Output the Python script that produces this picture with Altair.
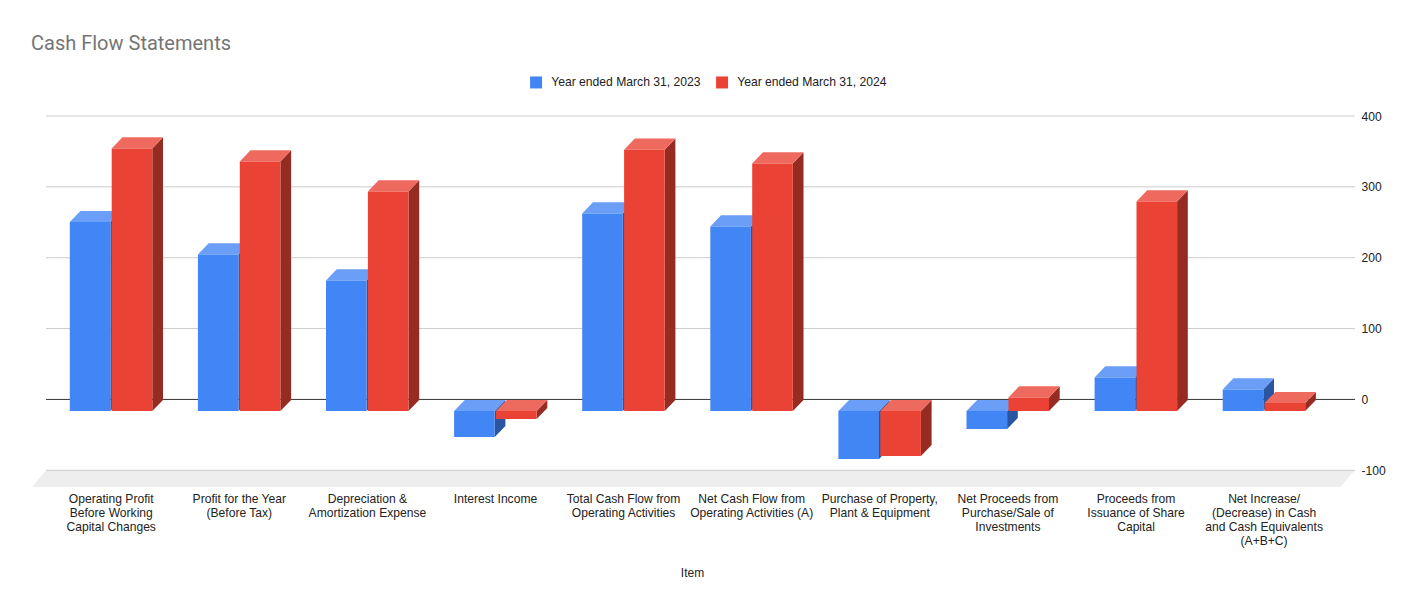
import altair as alt
import pandas as pd

title = "Cash Flow Statements"
categories = [
    "Operating Profit|Before Working|Capital Changes",
    "Profit for the Year|(Before Tax)",
    "Depreciation &|Amortization Expense",
    "Interest Income",
    "Total Cash Flow from|Operating Activities",
    "Net Cash Flow from|Operating Activities (A)",
    "Purchase of Property,|Plant & Equipment",
    "Net Proceeds from|Purchase/Sale of|Investments",
    "Proceeds from|Issuance of Share|Capital",
    "Net Increase/|(Decrease) in Cash|and Cash Equivalents|(A+B+C)",
]
values_2023 = [266.8, 221, 184.5, -36.7, 279, 260.7, -67.7, -25.4, 47.6, 30.6]
values_2024 = [370.8, 352.4, 310, -11.3, 369, 349.6, -63.5, 19.3, 296, 11.3]
series_names = ["Year ended March 31, 2023", "Year ended March 31, 2024"]
front_colors = ["#4285F4", "#EA4335"]
top_colors = ["#6A9EF7", "#EE6A5F"]
side_colors = ["#2A55A0", "#962B22"]
y_ticks = [400, 300, 200, 100, 0, -100]

# layout constants (pixels within the plot frame)
PX_ORIGIN, PX_STEP = 111.7, 128.1
def ux(px):
    return (px - PX_ORIGIN) / PX_STEP

BAR_W = ux(PX_ORIGIN + 40.6)
GAP = ux(PX_ORIGIN + 1.3)
DX = ux(PX_ORIGIN + 10.7)
BASE = -16.5   # front plane's zero level
DV = 15.8      # depth on the value scale

label_expr = "split(" + repr(list(categories)) + "[datum.value], '|')"

xs = alt.Scale(domain=[ux(32), ux(1355)], nice=False, zero=False)
ys = alt.Scale(domain=[-123.6, 400], nice=False, zero=False)

x_axis = alt.Axis(
    values=list(range(len(categories))), labelExpr=label_expr, grid=False, domain=False, ticks=False,
    labelFont="Liberation Sans", labelFontSize=12.1, labelColor="#222222", labelLineHeight=14,
    labelPadding=5, labelOffset=-1, labelOverlap=False, labelFlush=False, labelLimit=0, labelAngle=0, labelBaseline="top",
    title="Item", titleFont="Liberation Sans", titleFontSize=12, titleFontWeight="normal", titleColor="#222222",
    titleY=85, titleX=660, titleBaseline="middle",
)
y_axis = alt.Axis(
    orient="right", values=y_ticks, grid=False, domain=False, ticks=False, labelPadding=6,
    labelExpr="'' + datum.value",
    labelFont="Liberation Sans", labelFontSize=12.1, labelColor="#222222", title=None, labelOverlap=False,
)
X = alt.X("x:Q", scale=xs, axis=x_axis)
Y = alt.Y("y:Q", scale=ys, axis=y_axis, stack=None)

# floor
floor = pd.DataFrame({
    "x": [ux(32), ux(46), ux(1340), ux(1355)],
    "y": [-123.6, -100, -100, -100],
    "y2": [-123.6, -123.6, -123.6, -100],
})
floor_layer = alt.Chart(floor).mark_area(color="#EEEEEE", opacity=1, interpolate="linear").encode(
    x=X, y=Y, y2="y2:Q")

# grid
grid = pd.DataFrame({"y": y_ticks, "x": ux(46), "x2": ux(1355)})
grid_layer = alt.Chart(grid).mark_rule(strokeWidth=1).encode(
    x=X, x2="x2:Q", y=Y,
    color=alt.condition("datum.y === 0", alt.value("#333333"), alt.value("#CCCCCC")),
)

front, top, side = [], [], []
for s, vals in enumerate([values_2023, values_2024]):
    for i, v in enumerate(vals):
        x0 = i - BAR_W - GAP if s == 0 else i
        x1 = x0 + BAR_W
        hi = BASE + max(v, 0)
        lo = BASE + min(v, 0)
        front.append(dict(s=s, series=series_names[s], x=x0, x2=x1, y=hi, y2=lo))
        key = f"{s}-{i}"
        for px, a, b in [(x0, hi, hi), (x0 + DX, hi + DV, hi), (x1, hi + DV, hi), (x1 + DX, hi + DV, hi + DV)]:
            top.append(dict(s=s, key=key, x=px, y=a, y2=b))
        for px, a, b in [(x1, hi, lo), (x1 + DX, hi + DV, lo + DV)]:
            side.append(dict(s=s, key=key, x=px, y=a, y2=b))

front_df, top_df, side_df = pd.DataFrame(front), pd.DataFrame(top), pd.DataFrame(side)

layers = [floor_layer, grid_layer]
for s in range(2):
    layers.append(
        alt.Chart(side_df[side_df.s == s]).mark_area(color=side_colors[s], opacity=1, interpolate="linear").encode(
            x=X, y=Y, y2="y2:Q", detail="key:N"))
    layers.append(
        alt.Chart(top_df[top_df.s == s]).mark_area(color=top_colors[s], opacity=1, interpolate="linear").encode(
            x=X, y=Y, y2="y2:Q", detail="key:N"))
    layers.append(
        alt.Chart(front_df[front_df.s == s]).mark_rect(opacity=1).encode(
            x=X, x2="x2:Q", y=Y, y2="y2:Q",
            color=alt.Color(
                "series:N",
                scale=alt.Scale(domain=series_names, range=front_colors),
                legend=alt.Legend(
                    orient="none", legendX=498, legendY=-40, direction="horizontal", title=None,
                    symbolType="square", symbolSize=144, symbolStrokeWidth=0, symbolOpacity=1,
                    labelFont="Liberation Sans", labelFontSize=12.15, labelColor="#222222",
                    labelOffset=9, columnPadding=15, padding=0,
                ),
            ),
        ))

chart = alt.layer(*layers).properties(
    width=1323,
    height=371,
    title=alt.TitleParams(
        title, anchor="start", font="Roboto", fontSize=20, fontWeight="normal", color="#757575",
        offset=22, dx=-1,
    ),
    autosize=alt.AutoSizeParams(type="none"),
    padding={"left": 24, "top": 108, "right": 54, "bottom": 100},
).configure_view(stroke=None)

chart.save("out.html", embed_options={"renderer": "svg", "actions": False})
